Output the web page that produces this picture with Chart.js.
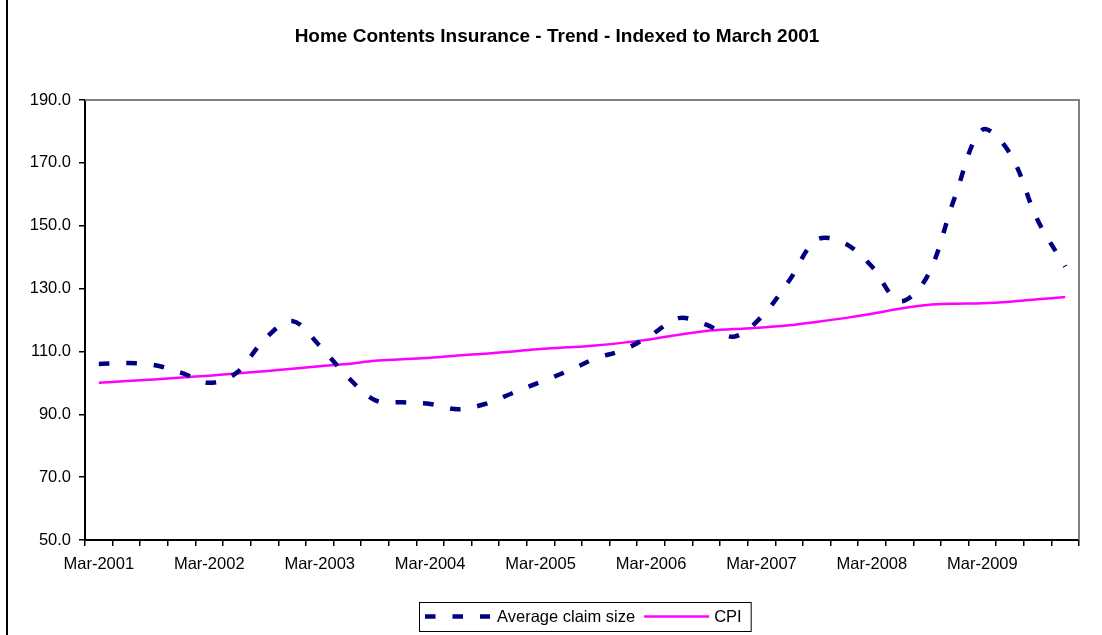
<!DOCTYPE html>
<html>
<head>
<meta charset="utf-8">
<script src="https://cdn.jsdelivr.net/npm/chart.js@4.4.1/dist/chart.umd.min.js"></script>
<style>
html,body{margin:0;padding:0;background:#fff;}
#wrap{width:1102px;height:635px;position:relative;}
</style>
</head>
<body>
<div id="wrap"><canvas id="c" width="1102" height="635"></canvas></div>
<script>
const chartTitle = 'Home Contents Insurance - Trend - Indexed to March 2001';
const quarters = [
 'Mar-2001','Jun-2001','Sep-2001','Dec-2001',
 'Mar-2002','Jun-2002','Sep-2002','Dec-2002',
 'Mar-2003','Jun-2003','Sep-2003','Dec-2003',
 'Mar-2004','Jun-2004','Sep-2004','Dec-2004',
 'Mar-2005','Jun-2005','Sep-2005','Dec-2005',
 'Mar-2006','Jun-2006','Sep-2006','Dec-2006',
 'Mar-2007','Jun-2007','Sep-2007','Dec-2007',
 'Mar-2008','Jun-2008','Sep-2008','Dec-2008',
 'Mar-2009','Jun-2009','Sep-2009','Dec-2009'
];
const avgClaimSize = [
 106.0,106.3,105.7,103.2,
 100.0,103.3,113.8,119.7,
 111.8,102.0,94.5,93.8,
 93.3,91.6,93.3,96.8,
 100.3,103.8,107.8,110.5,
 115.2,120.6,118.5,114.7,
 121.0,132.5,145.5,144.5,
 137.0,126.0,133.8,159.0,
 180.5,173.0,151.8,137.0
];
const cpi = [
 100.0,100.6,101.1,101.7,
 102.3,103.0,103.7,104.5,
 105.3,106.0,107.0,107.5,
 108.0,108.7,109.3,110.0,
 110.8,111.3,111.9,112.8,
 113.9,115.3,116.5,117.1,
 117.6,118.3,119.4,120.6,
 122.0,123.6,124.8,125.2,
 125.3,125.8,126.6,127.3
];
const seriesNames = ['Average claim size','CPI'];
const yTicks = {min:50, max:190, step:20};

const FONT = '"Liberation Sans", Arial, sans-serif';

const framePlugin = {
  id:'frame',
  beforeDraw(chart){
    const ctx = chart.ctx;
    ctx.save();
    ctx.fillStyle = '#fff';
    ctx.fillRect(0,0,chart.width,chart.height);
    ctx.strokeStyle = '#000';
    ctx.lineWidth = 2;
    ctx.beginPath();
    ctx.moveTo(7,0); ctx.lineTo(7,chart.height);
    ctx.stroke();
    // title
    ctx.fillStyle = '#000';
    ctx.font = 'bold 19px ' + FONT;
    ctx.textAlign = 'center';
    ctx.textBaseline = 'middle';
    ctx.fillText(chartTitle, 557, 37);
    ctx.restore();
  },
  beforeDatasetsDraw(chart){
    const a = chart.chartArea, ctx = chart.ctx;
    ctx.save();
    ctx.strokeStyle = '#808080';
    ctx.lineWidth = 2;
    ctx.beginPath();
    ctx.moveTo(a.left, a.top); ctx.lineTo(a.right, a.top); ctx.lineTo(a.right, a.bottom);
    ctx.stroke();
    ctx.restore();
  },
  afterDraw(chart){
    const ctx = chart.ctx;
    ctx.save();
    ctx.font = '16.5px ' + FONT;
    const boxL = 419, boxT = 602, boxH = 29, cy = boxT + boxH/2;
    let x = boxL + 6;
    chart.data.datasets.forEach((ds, i) => {
      ctx.save();
      ctx.strokeStyle = ds.borderColor;
      ctx.lineWidth = ds.borderWidth;
      ctx.setLineDash(ds.borderDash || []);
      ctx.lineCap = 'butt';
      ctx.beginPath();
      ctx.moveTo(x, cy); ctx.lineTo(x + 65, cy);
      ctx.stroke();
      ctx.restore();
      x += 65 + (i === 0 ? 7 : 5);
      ctx.fillStyle = '#000';
      ctx.textAlign = 'left';
      ctx.textBaseline = 'middle';
      ctx.fillText(ds.label, x, cy + 1);
      x += ctx.measureText(ds.label).width + 9;
    });
    ctx.strokeStyle = '#000';
    ctx.lineWidth = 1;
    ctx.strokeRect(boxL + 0.5, boxT + 0.5, x - boxL, boxH);
    ctx.restore();
  }
};

new Chart(document.getElementById('c'), {
  type:'line',
  data:{
    labels: quarters,
    datasets:[
      {label: seriesNames[0], data: avgClaimSize, borderColor:'#000080', backgroundColor:'#000080',
       borderWidth:4.5, borderDash:[10.5,17], borderCapStyle:'butt', pointRadius:0, tension:0.35, fill:false},
      {label: seriesNames[1], data: cpi, borderColor:'#FF00FF', backgroundColor:'#FF00FF',
       borderWidth:2.5, pointRadius:0, tension:0.35, fill:false}
    ]
  },
  options:{
    responsive:false,
    animation:false,
    devicePixelRatio:1,
    layout:{padding:{left:0,right:23,top:100,bottom:0}},
    plugins:{legend:{display:false}, title:{display:false}, tooltip:{enabled:false}},
    scales:{
      x:{
        type:'category', offset:true,
        grid:{offset:true, drawOnChartArea:false, tickLength:6, color:'#000', lineWidth:1.5},
        border:{color:'#000', width:2},
        ticks:{autoSkip:false, maxRotation:0, minRotation:0, padding:9, color:'#000',
          font:{family:FONT, size:16.5},
          callback:function(v, i){ return i % 4 === 0 ? quarters[i] : ''; }},
        afterFit(s){ s.height = 95; }
      },
      y:{
        min:yTicks.min, max:yTicks.max,
        grid:{drawOnChartArea:false, tickLength:6, color:'#000', lineWidth:1.5},
        border:{color:'#000', width:2},
        ticks:{stepSize:yTicks.step, padding:8, color:'#000', font:{family:FONT, size:16.5},
          callback:v => Number(v).toFixed(1)},
        afterFit(s){ s.width = 85; }
      }
    }
  },
  plugins:[framePlugin]
});
</script>
</body>
</html>
